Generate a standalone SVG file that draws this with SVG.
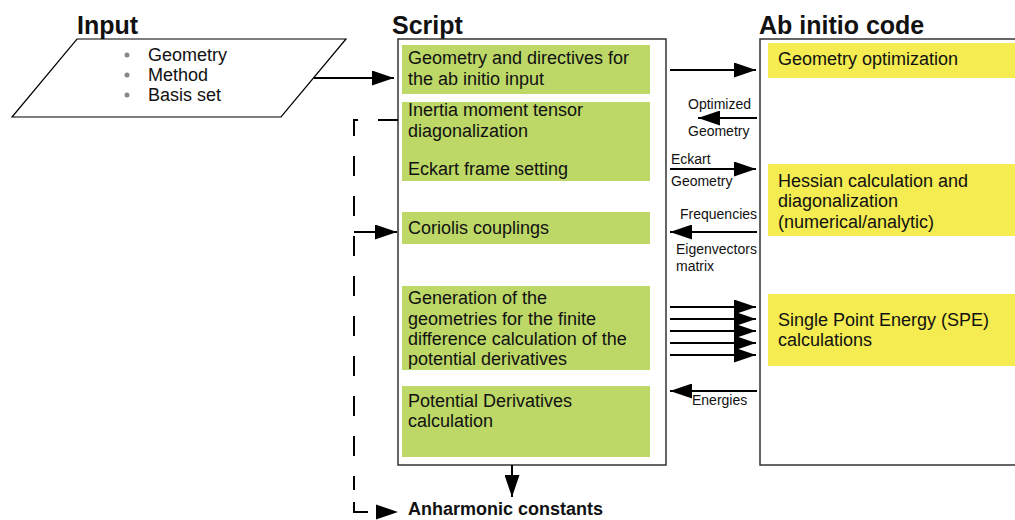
<svg xmlns="http://www.w3.org/2000/svg" width="1015" height="520" viewBox="0 0 1015 520">
<defs>
<style>
text{font-family:"Liberation Sans",Arial,sans-serif;fill:#111}
.title{font-size:25px;font-weight:bold}
.body{font-size:18px}
.small{font-size:14px}
.green{fill:#bdd867}
.yellow{fill:#f4ec50}
.frame{fill:#fff;stroke:#333;stroke-width:1.5}
.ln{stroke:#000;stroke-width:2;fill:none}
.dash{stroke:#000;stroke-width:2;fill:none;stroke-dasharray:20 20}
</style>
<marker id="ah" viewBox="0 0 22 15" refX="22" refY="7.5" markerWidth="22" markerHeight="15" markerUnits="userSpaceOnUse" orient="auto">
<path d="M0,0 L22,7.5 L0,15 Z" fill="#000"/>
</marker>
</defs>

<g id="input">
<text class="title" x="77" y="34">Input</text>
<polygon points="77,39 346,39 281,117 12,117" fill="#fff" stroke="#000" stroke-width="1.2"/>
<circle cx="127" cy="55" r="2.5" fill="#888"/>
<circle cx="127" cy="75" r="2.5" fill="#888"/>
<circle cx="127" cy="95" r="2.5" fill="#888"/>
<text class="body" x="148" y="61">Geometry</text>
<text class="body" x="148" y="81">Method</text>
<text class="body" x="148" y="101">Basis set</text>
</g>

<g id="script">
<text class="title" x="392" y="34">Script</text>
<rect class="frame" x="398" y="39" width="268" height="426"/>
<rect class="green" x="402" y="45" width="248" height="49"/>
<text class="body" x="408" y="64">Geometry and directives for</text>
<text class="body" x="408" y="85">the ab initio input</text>
<rect class="green" x="402" y="102" width="248" height="79"/>
<text class="body" x="408" y="116">Inertia moment tensor</text>
<text class="body" x="408" y="137">diagonalization</text>
<text class="body" x="408" y="175">Eckart frame setting</text>
<rect class="green" x="402" y="212" width="248" height="32"/>
<text class="body" x="408" y="234">Coriolis couplings</text>
<rect class="green" x="402" y="286" width="248" height="84"/>
<text class="body" x="408" y="304">Generation of the</text>
<text class="body" x="408" y="325">geometries for the finite</text>
<text class="body" x="408" y="345">difference calculation of the</text>
<text class="body" x="408" y="365">potential derivatives</text>
<rect class="green" x="402" y="386" width="248" height="71"/>
<text class="body" x="408" y="407">Potential Derivatives</text>
<text class="body" x="408" y="427">calculation</text>
</g>

<g id="abinitio">
<text class="title" x="759" y="34">Ab initio code</text>
<rect class="frame" x="760" y="39" width="270" height="426"/>
<rect class="yellow" x="768" y="43" width="260" height="35"/>
<text class="body" x="778" y="65">Geometry optimization</text>
<rect class="yellow" x="768" y="164" width="260" height="72"/>
<text class="body" x="778" y="187">Hessian calculation and</text>
<text class="body" x="778" y="207">diagonalization</text>
<text class="body" x="778" y="228">(numerical/analytic)</text>
<rect class="yellow" x="768" y="294" width="260" height="72"/>
<text class="body" x="778" y="326">Single Point Energy (SPE)</text>
<text class="body" x="778" y="346">calculations</text>
</g>

<g id="output">
<text class="body" x="408" y="515" font-weight="bold">Anharmonic constants</text>
</g>

<g id="connectors">
<line class="ln" x1="314" y1="78" x2="394" y2="78" marker-end="url(#ah)"/>
<line class="ln" x1="670" y1="70" x2="756" y2="70" marker-end="url(#ah)"/>
<line class="ln" x1="757" y1="118" x2="698" y2="118" marker-end="url(#ah)"/>
<line class="ln" x1="670" y1="169" x2="756" y2="169" marker-end="url(#ah)"/>
<line class="ln" x1="757" y1="232" x2="670" y2="232" marker-end="url(#ah)"/>
<line class="ln" x1="670" y1="307" x2="756" y2="307" marker-end="url(#ah)"/>
<line class="ln" x1="670" y1="319" x2="756" y2="319" marker-end="url(#ah)"/>
<line class="ln" x1="670" y1="331" x2="756" y2="331" marker-end="url(#ah)"/>
<line class="ln" x1="670" y1="343" x2="756" y2="343" marker-end="url(#ah)"/>
<line class="ln" x1="670" y1="355" x2="756" y2="355" marker-end="url(#ah)"/>
<line class="ln" x1="757" y1="391" x2="670" y2="391" marker-end="url(#ah)"/>
<line class="ln" x1="512" y1="465" x2="512" y2="497" marker-end="url(#ah)"/>
<path class="dash" d="M398,120 H354 V490"/>
<path class="ln" d="M354,502 V512 H368"/>
<line class="ln" x1="354" y1="232" x2="397" y2="232" marker-end="url(#ah)"/>
<path d="M376,504.5 L398,512 L376,519.5 Z" fill="#000"/>
<text class="small" x="688" y="109">Optimized</text>
<text class="small" x="688" y="136">Geometry</text>
<text class="small" x="671" y="164">Eckart</text>
<text class="small" x="671" y="186">Geometry</text>
<text class="small" x="680" y="219">Frequencies</text>
<text class="small" x="676" y="254">Eigenvectors</text>
<text class="small" x="676" y="271">matrix</text>
<text class="small" x="692" y="405">Energies</text>
</g>
</svg>
